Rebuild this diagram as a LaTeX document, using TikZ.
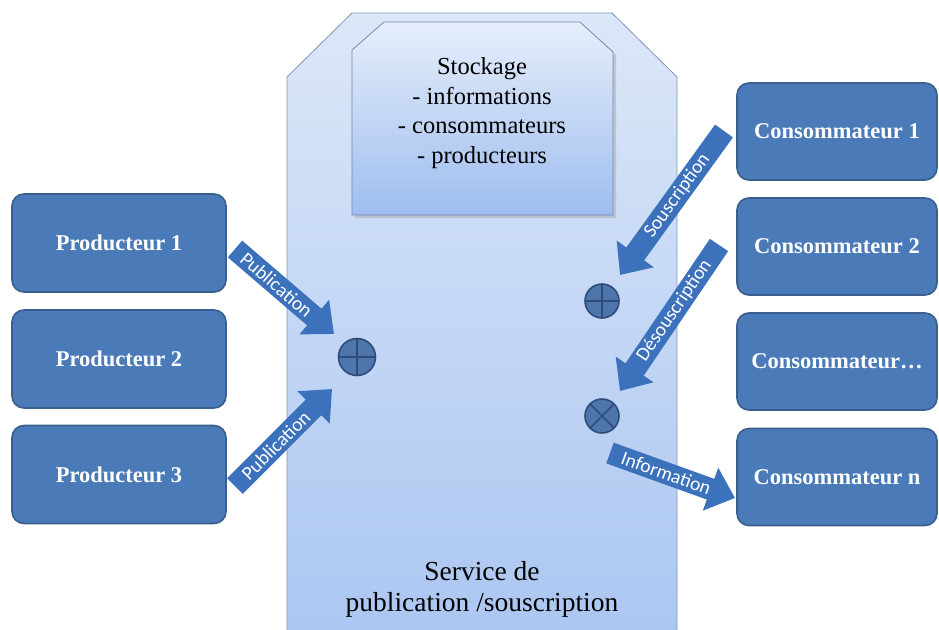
\documentclass[tikz,border=0pt]{standalone}
\usepackage{fontspec}
\setmainfont{Liberation Serif}
\newfontfamily\calib{Carlito}
\usetikzlibrary{arrows.meta}
\definecolor{boxfill}{HTML}{4A7AB7}
\definecolor{boxedge}{HTML}{3A5F8E}
\definecolor{arrowfill}{HTML}{3C72BC}
\definecolor{svctop}{HTML}{DCE7F8}
\definecolor{svcbot}{HTML}{A9C5F1}
\definecolor{svcedge}{HTML}{7F97B8}
\definecolor{stotop}{HTML}{E6EEFA}
\definecolor{stobot}{HTML}{9EBDEF}
\definecolor{stoedge}{HTML}{7089AE}
\definecolor{circfill}{HTML}{4E76AC}
\definecolor{circedge}{HTML}{2E4C78}
\begin{document}
\begin{tikzpicture}[x=1pt,y=-1pt,
  actor/.style={draw=boxedge, line width=1.6pt, fill=boxfill, rounded corners=12pt,
    text=white, inner sep=0pt},
  prodbox/.style={actor, minimum width=214pt, minimum height=98pt,
    font=\fontsize{22.5}{26}\selectfont\bfseries},
  consbox/.style={actor, minimum width=200pt, minimum height=97pt,
    font=\fontsize{22.5}{26}\selectfont\bfseries},
  blockarrow/.style={draw=arrowfill, line width=22pt,
    -{Triangle[width=44pt,length=26pt]}},
  arrowtext/.style={sloped, text=white, font=\calib\fontsize{19.5}{19.5}\selectfont, inner sep=0pt},
  bigtext/.style={align=center, font=\fontsize{27.5}{31}\selectfont},
  stotext/.style={align=center, font=\fontsize{24.5}{29.5}\selectfont},
  plusmark/.style={circle, draw=circedge, line width=1.6pt, fill=circfill, inner sep=0pt,
    path picture={\draw[circedge, line width=1.6pt]
      (path picture bounding box.north) -- (path picture bounding box.south)
      (path picture bounding box.west) -- (path picture bounding box.east);}},
  timesmark/.style={circle, draw=circedge, line width=1.6pt, fill=circfill, inner sep=0pt,
    path picture={\draw[circedge, line width=1.6pt]
      (path picture bounding box.north west) -- (path picture bounding box.south east)
      (path picture bounding box.south west) -- (path picture bounding box.north east);}}
]
\useasboundingbox (0,0) rectangle (939,629);
\fill[white] (0,0) rectangle (939,629);
\begin{scope}
\clip (0,0) rectangle (939,629);
% service shape
\shade[top color=svctop, bottom color=svcbot, draw=svcedge, line width=0.8pt]
  (287,660) -- (287,77) -- (352,13) -- (612,13) -- (677,77) -- (677,660) -- cycle;
\end{scope}
% stockage box with shadow
\fill[black!30, opacity=0.6] (355,53) -- (387,25) -- (583,25) -- (616,55) -- (616,218) -- (355,218) -- cycle;
\shade[top color=stotop, bottom color=stobot, draw=stoedge, line width=0.8pt]
  (352,50) -- (384,22) -- (580,22) -- (613,52) -- (613,215) -- (352,215) -- cycle;
\node[stotext] (stock) at (482,113) {Stockage\\- informations\\- consommateurs\\- producteurs};
\node[bigtext] (svc) at (482,589) {Service de\\publication /souscription};

% producers
\node[prodbox] (p1) at (119,243) {Producteur 1};
\node[prodbox] (p2) at (119,359) {Producteur 2};
\node[prodbox] (p3) at (119,474.5) {Producteur 3};
% consumers
\node[consbox] (c1) at (837,131.5) {Consommateur 1};
\node[consbox] (c2) at (837,246.5) {Consommateur 2};
\node[consbox] (c3) at (837,361.5) {Consommateur\dots};
\node[consbox] (cn) at (837,477) {Consommateur n};

% operators
\node[plusmark, minimum size=37pt] (plusL) at (357,357) {};
\node[plusmark, minimum size=34pt] (plusR) at (602,301) {};
\node[timesmark, minimum size=34pt] (timesR) at (602,416) {};

% arrow end points
\coordinate (pub1s) at (235,249);
\coordinate (pub1e) at (334,334);
\coordinate (pub2s) at (235,486);
\coordinate (pub2e) at (332,389);
\coordinate (souss) at (724,131);
\coordinate (souse) at (620,275);
\coordinate (desos) at (719,245);
\coordinate (desoe) at (620,391);
\coordinate (infos) at (610,453);
\coordinate (infoe) at (735,498);

\draw[blockarrow] (pub1s) -- (pub1e) node[arrowtext, pos=0.42] {Publication};
\draw[blockarrow] (pub2s) -- (pub2e) node[arrowtext, pos=0.42] {Publication};
\draw[blockarrow] (souss) -- (souse) node[arrowtext, pos=0.45] {Souscription};
\draw[blockarrow] (desos) -- (desoe) node[arrowtext, pos=0.45] {Désouscription};
\draw[blockarrow] (infos) -- (infoe) node[arrowtext, pos=0.45] {Information};
\end{tikzpicture}
\end{document}
